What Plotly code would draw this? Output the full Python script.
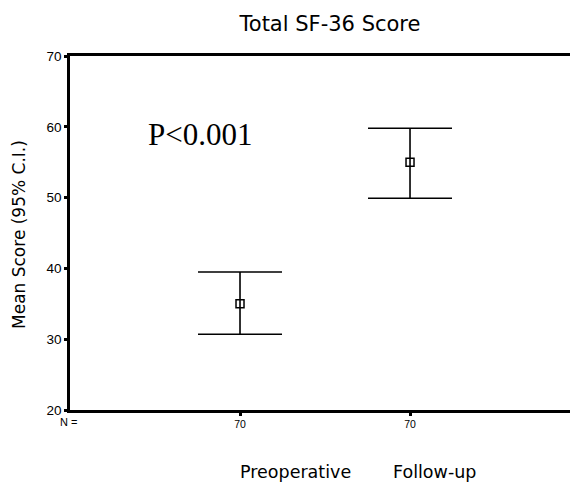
import plotly.graph_objects as go

groups = ["Preoperative", "Follow-up"]
group_pos = [1, 2]
means = [35.0, 55.0]
upper = [39.5, 59.8]
lower = [30.7, 49.9]
n_counts = ["70", "70"]
y_ticks = [20, 30, 40, 50, 60, 70]

err_plus = [u - m for u, m in zip(upper, means)]
err_minus = [m - l for m, l in zip(means, lower)]

SANS = "DejaVu Sans, Liberation Sans, Arial"
ARIAL = "Liberation Sans, Arial"

fig = go.Figure()
fig.add_trace(go.Scatter(
    x=group_pos, y=means, mode="markers",
    marker=dict(symbol="square-open", size=8, color="black", line=dict(width=1.5, color="black")),
    error_y=dict(type="data", symmetric=False, array=err_plus, arrayminus=err_minus,
                 color="black", thickness=1.6, width=42),
    showlegend=False, hoverinfo="skip"))

fig.update_layout(
    width=570, height=485,
    margin=dict(l=70, r=0, t=56, b=75),
    paper_bgcolor="white", plot_bgcolor="white",
    font=dict(family=SANS, color="black"),
    title=dict(text="Total SF-36 Score", x=330/570, xanchor="center", y=1 - 24/485, yanchor="middle",
               font=dict(size=21, color="black")),
    xaxis=dict(range=[0, 2.941], showgrid=False, zeroline=False,
               showline=True, linecolor="black", linewidth=2.5, mirror=True,
               tickmode="array", tickvals=group_pos, ticktext=n_counts,
               ticks="outside", ticklen=3, tickwidth=3, tickcolor="black",
               tickfont=dict(size=10.5, family=ARIAL)),
    yaxis=dict(range=[20, 70], showgrid=False, zeroline=False,
               showline=True, linecolor="black", linewidth=2.5, mirror=False,
               tickmode="array", tickvals=y_ticks,
               ticks="outside", ticklen=3, tickwidth=3, tickcolor="black",
               tickfont=dict(size=13.5, family=ARIAL)),
)

fig.add_annotation(text="Mean Score (95% C.I.)", xref="paper", yref="paper",
                   x=(19 - 70) / 500, y=(410 - 235) / 354, textangle=-90,
                   showarrow=False, font=dict(size=17), xanchor="center", yanchor="middle")
fig.add_annotation(text="N =", xref="paper", yref="paper",
                   x=(68 - 70) / 500, y=(410 - 422) / 354,
                   showarrow=False, font=dict(size=11, family=ARIAL), xanchor="center", yanchor="middle")
label_px = [295, 434]
for lab, px in zip(groups, label_px):
    fig.add_annotation(text=lab, xref="paper", yref="paper",
                       x=(px - 70) / 500, y=(410 - 472) / 354,
                       showarrow=False, font=dict(size=17.5), xanchor="center", yanchor="middle")
fig.add_annotation(text="P<0.001", xref="paper", yref="paper",
                   x=(146 - 70) / 500, y=(410 - 134) / 354, xanchor="left", yanchor="middle",
                   showarrow=False, font=dict(size=31, family="Liberation Serif, Times New Roman"))

fig.write_html("out.html")
